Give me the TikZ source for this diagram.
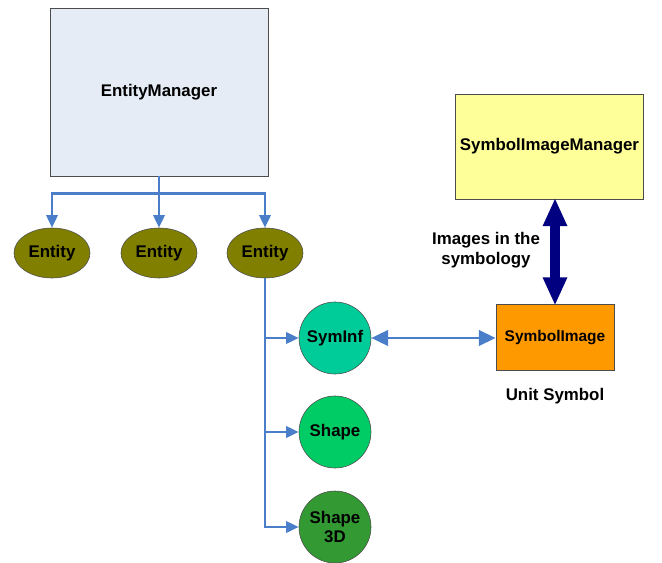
\documentclass[tikz,border=0pt]{standalone}
\usepackage{fontspec}
\setmainfont{Liberation Sans}
\usetikzlibrary{positioning,shapes.geometric,arrows.meta}

\definecolor{mgrblue}{HTML}{E6ECF6}
\definecolor{linkblue}{HTML}{4A7EC8}
\definecolor{entolive}{HTML}{807F00}
\definecolor{symteal}{HTML}{00CC99}
\definecolor{shapegreen}{HTML}{00CC66}
\definecolor{shapedark}{HTML}{339933}
\definecolor{imgorange}{HTML}{FF9900}
\definecolor{imgyellow}{HTML}{FFFF99}
\definecolor{arrnavy}{HTML}{000080}

\begin{document}
\begin{tikzpicture}[x=0.025cm,y=-0.025cm,font=\bfseries\fontsize{12}{14}\selectfont]
	% Define styles
	\tikzset{
		box/.style={draw=black!70, line width=0.5pt, align=center},
		entity/.style={ellipse, draw=black!70, fill=entolive, minimum width=1.9cm, minimum height=1.25cm, inner sep=0pt},
		part/.style={circle, draw=black!70, minimum size=1.8cm, inner sep=0pt, align=center},
		conn/.style={draw=linkblue, line width=2pt, -{Triangle[length=9pt,width=8pt]}},
		dconn/.style={draw=linkblue, line width=2pt, {Triangle[length=12pt,width=11pt]}-{Triangle[length=12pt,width=11pt]}},
		fat/.style={draw=arrnavy, line width=7pt, {Triangle[length=20pt,width=16pt]}-{Triangle[length=20pt,width=16pt]}, shorten <=-1pt, shorten >=-1pt}
	}
	\useasboundingbox (0,0) rectangle (662,563);
	
	% Managers
	\node[box, fill=mgrblue, minimum width=5.45cm, minimum height=4.2cm] (mgr) at (159,92) {EntityManager};
	\node[box, fill=imgyellow, minimum width=4.675cm, minimum height=2.625cm] (simgr) at (549.5,146.5) {SymbolImageManager};
	\node[box, fill=imgorange, minimum width=2.95cm, minimum height=1.65cm, font=\bfseries\fontsize{11}{13}\selectfont] (simg) at (555,337.5) {SymbolImage};
	
	% Entities
	\node[entity] (ent-1) at (52,253) {Entity};
	\node[entity] (ent-2) at (159,253) {Entity};
	\node[entity] (ent-3) at (265,253) {Entity};
	
	% Parts of the third entity
	\node[part, fill=symteal] (syminf) at (335,338) {SymInf};
	\node[part, fill=shapegreen] (shape) at (335,432) {Shape};
	\node[part, fill=shapedark] (shape3d) at (335,527) {Shape\\3D};
	
	% Labels
	\node (unit) at (555,396) {Unit Symbol};
	\node[align=center] (imgs) at (486,250) {Images in the\\symbology};
	
	% Connectors
	\foreach \k in {1,2,3}
		\draw[conn] (mgr.south) -- ++(0,17) -| (ent-\k.north);
	\foreach \p in {syminf,shape,shape3d}
		\draw[conn] (ent-3.south) |- (\p.west);
	\draw[dconn] (syminf.east) -- (syminf.east -| simg.west);
	\draw[fat] (simgr.south -| simg.north) -- (simg.north);
\end{tikzpicture}
\end{document}
